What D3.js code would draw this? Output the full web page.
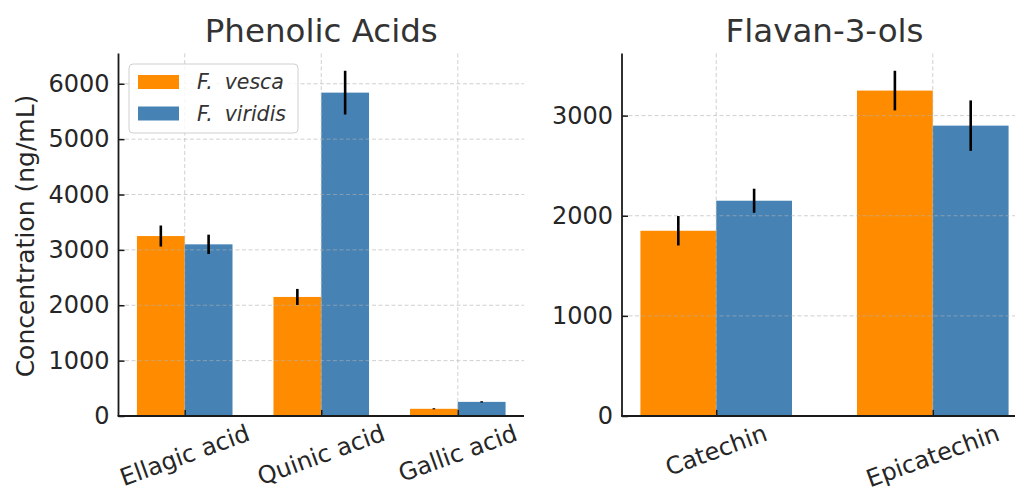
<!DOCTYPE html>
<html>
<head>
<meta charset="utf-8">
<script src="https://cdn.jsdelivr.net/npm/d3@7"></script>
<style>
  html, body { margin: 0; padding: 0; background: #fff; }
  svg { display: block; font-family: "DejaVu Sans", sans-serif; }
</style>
</head>
<body>
<svg id="chart" width="1015" height="493"></svg>
<script>
// ---- data ----
const seriesNames = ["F. vesca", "F. viridis"];
const seriesColors = ["#FF8C00", "#4682B4"];

const phenolicCategories = ["Ellagic acid", "Quinic acid", "Gallic acid"];
const phenolicVesca = [3250, 2150, 130];
const phenolicVescaErr = [190, 145, 10];
const phenolicViridis = [3100, 5840, 255];
const phenolicViridisErr = [175, 395, 12];
const phenolicTicks = [0, 1000, 2000, 3000, 4000, 5000, 6000];

const flavanCategories = ["Catechin", "Epicatechin"];
const flavanVesca = [1850, 3250];
const flavanVescaErr = [147, 198];
const flavanViridis = [2150, 2900];
const flavanViridisErr = [120, 252];
const flavanTicks = [0, 1000, 2000, 3000];

// ---- drawing ----
const svg = d3.select("#chart");
const textColor = "#262626";
const barW = 0.35;

function panel(opts) {
  const { x0, x1, yTop, yBottom, cats, vals, errs, ticks, title } = opts;
  const n = cats.length;
  const lo = -barW, hi = n - 1 + barW;
  const m = 0.05 * (hi - lo);
  const x = d3.scaleLinear().domain([lo - m, hi + m]).range([x0, x1]);
  let maxV = 0;
  vals.forEach((s, si) => s.forEach((v, i) => { maxV = Math.max(maxV, v + errs[si][i]); }));
  const y = d3.scaleLinear().domain([0, maxV * 1.05]).range([yBottom, yTop]);

  const g = svg.append("g");

  // bars
  vals.forEach((s, si) => {
    g.selectAll(null).data(s).enter().append("rect")
      .attr("x", (d, i) => x(i - barW + si * barW))
      .attr("width", (d, i) => x(i + barW) - x(i))
      .attr("y", d => y(d))
      .attr("height", d => y(0) - y(d))
      .attr("fill", seriesColors[si]);
  });

  // grid (on top, translucent)
  const grid = g.append("g").attr("stroke", "#b0b0b0").attr("stroke-opacity", 0.6)
    .attr("stroke-width", 1).attr("stroke-dasharray", "4,2.5");
  grid.selectAll(null).data(ticks).enter().append("line")
    .attr("x1", x0).attr("x2", x1)
    .attr("y1", d => y(d)).attr("y2", d => y(d));
  grid.selectAll(null).data(d3.range(n)).enter().append("line")
    .attr("x1", d => x(d)).attr("x2", d => x(d))
    .attr("y1", yTop).attr("y2", yBottom);

  // error bars
  vals.forEach((s, si) => {
    g.selectAll(null).data(s).enter().append("line")
      .attr("x1", (d, i) => x(i - barW / 2 + si * barW))
      .attr("x2", (d, i) => x(i - barW / 2 + si * barW))
      .attr("y1", (d, i) => y(d - errs[si][i]))
      .attr("y2", (d, i) => y(d + errs[si][i]))
      .attr("stroke", "#000").attr("stroke-width", 2.6);
  });

  // y axis
  const yAxis = d3.axisLeft(y).tickValues(ticks).tickSizeInner(-6).tickSizeOuter(0)
    .tickPadding(9).tickFormat(d3.format("d"));
  const ya = g.append("g").attr("transform", `translate(${x0},0)`).call(yAxis);
  ya.select(".domain").remove();
  ya.selectAll(".tick line").attr("stroke", "#1a1a1a").attr("stroke-width", 1.5);
  ya.selectAll(".tick text").attr("font-size", 24).attr("fill", textColor)
    .attr("font-family", "DejaVu Sans");

  // x axis ticks (inward)
  const xAxis = d3.axisBottom(x).tickValues(d3.range(n)).tickSizeInner(-6).tickSizeOuter(0)
    .tickFormat("");
  const xa = g.append("g").attr("transform", `translate(0,${yBottom})`).call(xAxis);
  xa.select(".domain").remove();
  xa.selectAll(".tick line").attr("stroke", "#1a1a1a").attr("stroke-width", 1.5);

  // rotated category labels
  const ang = 20 * Math.PI / 180;
  cats.forEach((c, i) => {
    const t = g.append("text").text(c)
      .attr("font-size", 24).attr("fill", textColor)
      .attr("text-anchor", "middle").attr("dominant-baseline", "central");
    const w = t.node().getComputedTextLength();
    const h = 26;
    const bh = w * Math.sin(ang) + h * Math.cos(ang);
    const cy = yBottom + 4 + bh / 2;
    t.attr("transform", `translate(${x(i)},${cy}) rotate(-20)`);
  });

  // spines
  g.append("line").attr("x1", x0).attr("x2", x0).attr("y1", yTop).attr("y2", yBottom)
    .attr("stroke", "#1a1a1a").attr("stroke-width", 1.8);
  g.append("line").attr("x1", x0 - 0.9).attr("x2", x1).attr("y1", yBottom).attr("y2", yBottom)
    .attr("stroke", "#1a1a1a").attr("stroke-width", 1.8);

  // title
  g.append("text").text(title).attr("x", (x0 + x1) / 2).attr("y", 42)
    .attr("text-anchor", "middle").attr("font-size", 32.5).attr("fill", "#333");

  return { x, y, g };
}

panel({
  x0: 118.5, x1: 524, yTop: 53.5, yBottom: 416,
  cats: phenolicCategories,
  vals: [phenolicVesca, phenolicViridis],
  errs: [phenolicVescaErr, phenolicViridisErr],
  ticks: phenolicTicks, title: "Phenolic Acids"
});

panel({
  x0: 622, x1: 1027, yTop: 53.5, yBottom: 416,
  cats: flavanCategories,
  vals: [flavanVesca, flavanViridis],
  errs: [flavanVescaErr, flavanViridisErr],
  ticks: flavanTicks, title: "Flavan-3-ols"
});

// y label
svg.append("text").text("Concentration (ng/mL)")
  .attr("transform", "translate(25,236) rotate(-90)")
  .attr("text-anchor", "middle").attr("dominant-baseline", "central")
  .attr("font-size", 25).attr("fill", textColor);

// legend
const lg = svg.append("g");
lg.append("rect").attr("x", 129).attr("y", 64).attr("width", 169).attr("height", 69)
  .attr("rx", 4).attr("fill", "#fff").attr("fill-opacity", 0.8)
  .attr("stroke", "#d0d0d0").attr("stroke-width", 1);
seriesNames.forEach((name, i) => {
  const yy = 82 + i * 31.5;
  lg.append("rect").attr("x", 138).attr("y", yy - 7).attr("width", 41).attr("height", 14)
    .attr("fill", seriesColors[i]);
  const parts = name.split(" ");
  const t = lg.append("text").attr("x", 197).attr("y", yy)
    .attr("dominant-baseline", "central").attr("font-size", 20.5)
    .attr("font-style", "italic").attr("fill", "#333");
  t.append("tspan").text(parts[0]);
  t.append("tspan").attr("dx", 12).text(parts[1]);
});
</script>
</body>
</html>
